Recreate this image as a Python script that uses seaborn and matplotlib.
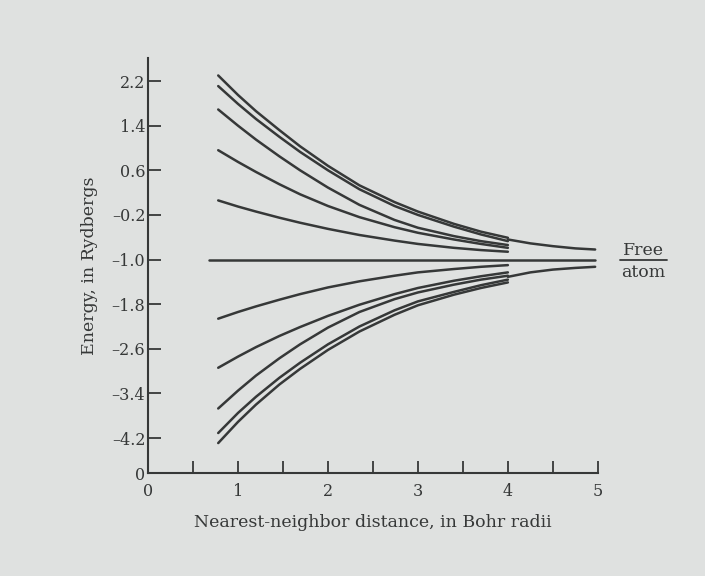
import numpy as np
import pandas as pd
import matplotlib
matplotlib.use("Agg")
import matplotlib.pyplot as plt
import seaborn as sns

# ---- data ----
distance = [0.78, 1.0, 1.2, 1.46, 1.69, 2.0, 2.35, 2.74, 3.0, 3.4, 3.7, 4.0]
upper_1 = [2.30, 1.95, 1.66, 1.32, 1.03, 0.68, 0.33, 0.03, -0.14, -0.36, -0.50, -0.61]
upper_2 = [2.11, 1.79, 1.52, 1.20, 0.93, 0.60, 0.26, -0.04, -0.20, -0.41, -0.55, -0.67]
upper_3 = [1.69, 1.40, 1.15, 0.85, 0.60, 0.29, -0.02, -0.29, -0.43, -0.58, -0.67, -0.74]
upper_4 = [0.96, 0.75, 0.57, 0.35, 0.17, -0.04, -0.24, -0.42, -0.52, -0.64, -0.72, -0.79]
upper_5 = [0.06, -0.05, -0.14, -0.25, -0.34, -0.45, -0.56, -0.66, -0.72, -0.79, -0.83, -0.86]
lower_1 = [-2.06, -1.94, -1.84, -1.72, -1.62, -1.50, -1.39, -1.29, -1.23, -1.17, -1.13, -1.10]
lower_2 = [-2.94, -2.74, -2.57, -2.37, -2.21, -2.01, -1.81, -1.62, -1.51, -1.38, -1.30, -1.23]
lower_3 = [-3.67, -3.35, -3.08, -2.77, -2.52, -2.22, -1.94, -1.71, -1.59, -1.45, -1.36, -1.29]
lower_4 = [-4.11, -3.75, -3.46, -3.12, -2.85, -2.52, -2.20, -1.91, -1.75, -1.58, -1.46, -1.36]
lower_5 = [-4.29, -3.91, -3.60, -3.24, -2.96, -2.62, -2.29, -1.99, -1.82, -1.63, -1.51, -1.41]

tail_distance = [4.0, 4.25, 4.5, 4.75, 4.97]
tail_upper = [-0.64, -0.71, -0.76, -0.80, -0.82]
tail_lower = [-1.31, -1.23, -1.18, -1.15, -1.13]

atom_distance = [0.68, 4.97]
atom_level = [-1.0, -1.0]

ytick_values = [-4.835, -4.2, -3.4, -2.6, -1.8, -1.0, -0.2, 0.6, 1.4, 2.2]
ytick_labels = ["0", "\u20134.2", "\u20133.4", "\u20132.6", "\u20131.8", "\u20131.0",
                "\u20130.2", "0.6", "1.4", "2.2"]
xtick_values = [0, 0.5, 1, 1.5, 2, 2.5, 3, 3.5, 4, 4.5, 5]
xtick_labels = ["0", "", "1", "", "2", "", "3", "", "4", "", "5"]

x_label = "Nearest-neighbor distance, in Bohr radii"
y_label = "Energy, in Rydbergs"
legend_top = "Free"
legend_bottom = "atom"

# ---- build long-form table ----
rows = []
band_curves = {"u1": upper_1, "u2": upper_2, "u3": upper_3, "u4": upper_4, "u5": upper_5,
               "l1": lower_1, "l2": lower_2, "l3": lower_3, "l4": lower_4, "l5": lower_5}
for name, vals in band_curves.items():
    for d, e in zip(distance, vals):
        rows.append({"curve": name, "distance": d, "energy": e})
for d, e in zip(tail_distance, tail_upper):
    rows.append({"curve": "tu", "distance": d, "energy": e})
for d, e in zip(tail_distance, tail_lower):
    rows.append({"curve": "tl", "distance": d, "energy": e})
for d, e in zip(atom_distance, atom_level):
    rows.append({"curve": "atom", "distance": d, "energy": e})
df = pd.DataFrame(rows)

paper = "#dfe1e0"
ink = "#363838"

sns.set_theme(style="ticks")
plt.rcParams["font.family"] = ["DejaVu Serif"]

fig = plt.figure(figsize=(7.05, 5.76), dpi=100, facecolor=paper)
ax = fig.add_axes([0.21, 0.178, 0.638, 0.721], facecolor=paper)

sns.lineplot(data=df, x="distance", y="energy", units="curve", estimator=None,
             color=ink, linewidth=1.8, sort=False, ax=ax, legend=False)

ax.set_xlim(0, 5)
ax.set_ylim(-4.835, 2.61)
ax.set_xticks(xtick_values)
ax.set_xticklabels(xtick_labels)
ax.set_yticks(ytick_values)
ax.set_yticklabels(ytick_labels)
ax.tick_params(axis="both", direction="in", length=9, width=1.3, color=ink,
               labelcolor=ink, labelsize=11.5)
ax.tick_params(axis="y", pad=2)
ax.tick_params(axis="x", pad=7)
for s in ["top", "right"]:
    ax.spines[s].set_visible(False)
for s in ["left", "bottom"]:
    ax.spines[s].set_color(ink)
    ax.spines[s].set_linewidth(1.5)

ax.set_xlabel(x_label, fontsize=12.5, color=ink, labelpad=10)
ax.set_ylabel(y_label, fontsize=12.5, color=ink, labelpad=10)

ax.text(5.51, -0.83, legend_top, ha="center", va="center", fontsize=12.5,
        color=ink, clip_on=False)
ax.text(5.51, -1.23, legend_bottom, ha="center", va="center", fontsize=12.5,
        color=ink, clip_on=False)
ax.plot([5.25, 5.77], [-1.0, -1.0], color=ink, linewidth=1.3, clip_on=False)

fig.savefig("out.png", dpi=100, facecolor=paper)
